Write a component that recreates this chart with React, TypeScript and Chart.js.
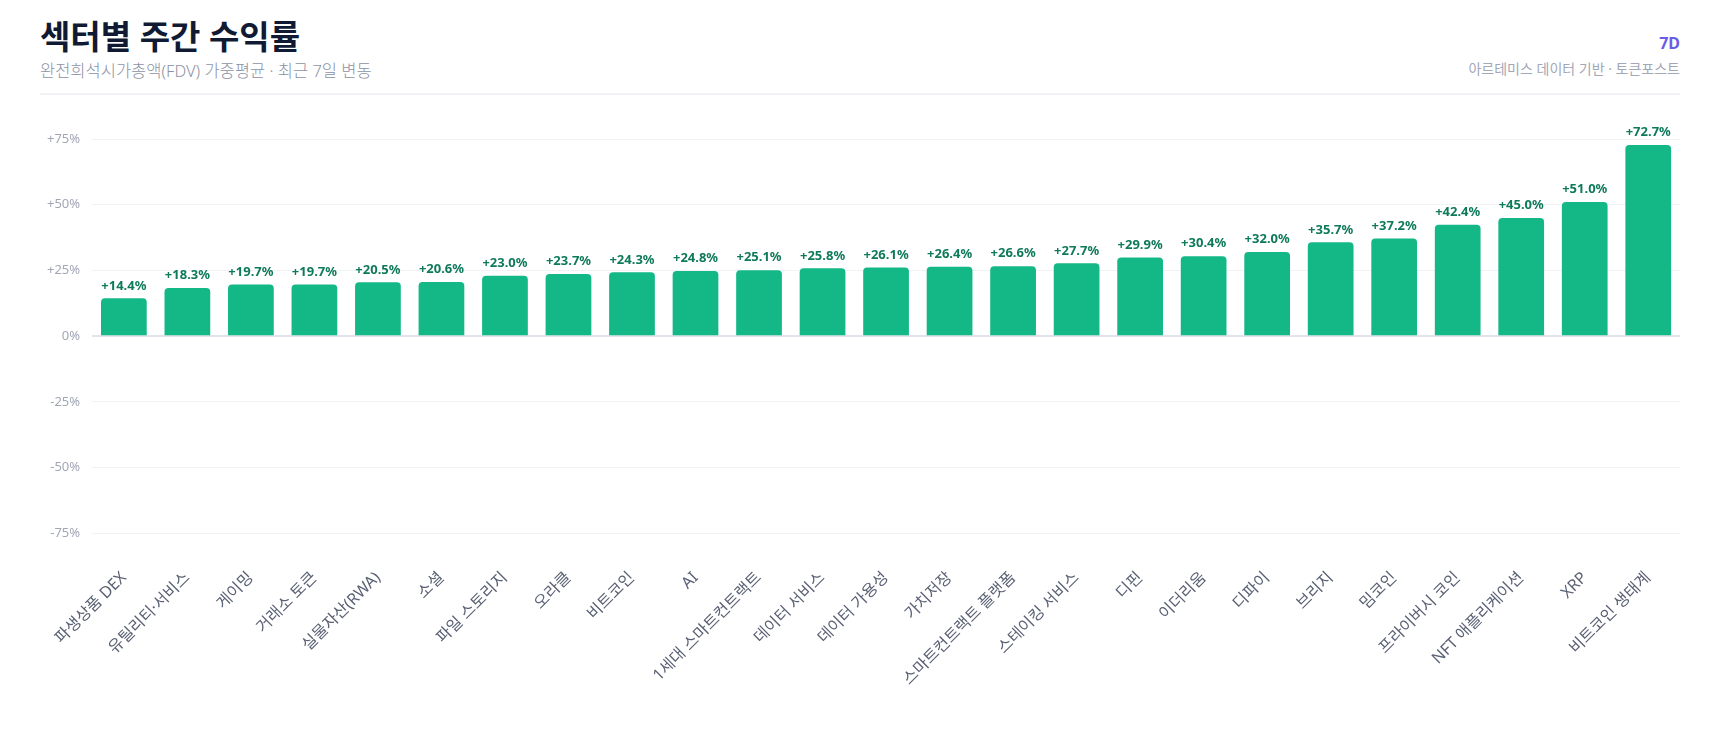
import React, { useEffect, useRef } from "react";
import { Chart, registerables } from "chart.js";

Chart.register(...registerables);

const categories = [
  "파생상품 DEX",
  "유틸리티·서비스",
  "게이밍",
  "거래소 토큰",
  "실물자산(RWA)",
  "소셜",
  "파일 스토리지",
  "오라클",
  "비트코인",
  "AI",
  "1세대 스마트컨트랙트",
  "데이터 서비스",
  "데이터 가용성",
  "가치저장",
  "스마트컨트랙트 플랫폼",
  "스테이킹 서비스",
  "디핀",
  "이더리움",
  "디파이",
  "브리지",
  "밈코인",
  "프라이버시 코인",
  "NFT 애플리케이션",
  "XRP",
  "비트코인 생태계",
];

const weeklyReturns = [
  14.4, 18.3, 19.7, 19.7, 20.5, 20.6, 23.0, 23.7, 24.3, 24.8, 25.1, 25.8, 26.1,
  26.4, 26.6, 27.7, 29.9, 30.4, 32.0, 35.7, 37.2, 42.4, 45.0, 51.0, 72.7,
];

const yTicks = [-75, -50, -25, 0, 25, 50, 75];

const FONT = '"Noto Sans", "Noto Sans CJK KR", sans-serif';

const fmtPct = (v: number) => (v > 0 ? `+${v.toFixed(1)}%` : `${v.toFixed(1)}%`);
const fmtTick = (v: number) => (v > 0 ? `+${v}%` : `${v}%`);

const valueLabels = {
  id: "valueLabels",
  afterDatasetsDraw(chart: any) {
    const { ctx } = chart;
    const meta = chart.getDatasetMeta(0);
    ctx.save();
    ctx.font = `700 13px ${FONT}`;
    ctx.fillStyle = "#0f7a5a";
    ctx.textAlign = "center";
    ctx.textBaseline = "bottom";
    meta.data.forEach((bar: any, i: number) => {
      const v = weeklyReturns[i];
      ctx.fillText(fmtPct(v), bar.x, bar.y - 6);
    });
    ctx.restore();
  },
};

export default function App() {
  const ref = useRef<HTMLCanvasElement | null>(null);

  useEffect(() => {
    if (!ref.current) return;
    const chart = new Chart(ref.current, {
      type: "bar",
      data: {
        labels: categories,
        datasets: [
          {
            data: weeklyReturns,
            backgroundColor: "#14b886",
            borderRadius: 4,
            borderSkipped: "start",
          },
        ],
      },
      options: {
        animation: false,
        responsive: true,
        maintainAspectRatio: false,
        layout: { padding: { top: 40, left: 0, right: 0, bottom: 33 } },
        plugins: {
          legend: { display: false },
          tooltip: { enabled: false },
        },
        scales: {
          x: {
            grid: {
              display: true,
              drawOnChartArea: false,
              drawTicks: true,
              tickLength: 32,
              tickColor: "rgba(0,0,0,0)",
            },
            border: { display: false },
            ticks: {
              minRotation: 45,
              maxRotation: 45,
              autoSkip: false,
              padding: 3,
              color: "#5a6174",
              font: { family: FONT, size: 16 },
            },
          },
          y: {
            min: -75,
            max: 75,
            afterBuildTicks: (axis: any) => {
              axis.ticks = yTicks.map((v) => ({ value: v }));
            },
            grid: {
              drawTicks: false,
              color: (c: any) => (c.tick && c.tick.value === 0 ? "#e1e4ea" : "#f1f2f6"),
              lineWidth: (c: any) => (c.tick && c.tick.value === 0 ? 2 : 1),
            },
            border: { display: false },
            ticks: {
              padding: 12,
              color: "#a2a7b6",
              font: { family: FONT, size: 13 },
              callback: (v: any) => fmtTick(Number(v)),
            },
          },
        },
      },
      plugins: [valueLabels],
    });
    return () => chart.destroy();
  }, []);

  return (
    <div style={{ padding: "0 32px", fontFamily: FONT }}>
      <div style={{ display: "flex", justifyContent: "space-between", alignItems: "flex-start" }}>
        <div>
          <div
            style={{
              fontSize: 33,
              fontWeight: 700,
              lineHeight: "40px",
              marginTop: 9,
              color: "#101a33",
            }}
          >
            섹터별 주간 수익률
          </div>
          <div
            style={{
              fontSize: 16.5,
              fontWeight: 300,
              lineHeight: "20px",
              marginTop: 4,
              color: "#8c92a4",
            }}
          >
            완전희석시가총액(FDV) 가중평균 · 최근 7일 변동
          </div>
        </div>
        <div style={{ textAlign: "right" }}>
          <div
            style={{
              fontSize: 16,
              fontWeight: 700,
              lineHeight: "20px",
              marginTop: 25,
              color: "#6b5ce7",
            }}
          >
            7D
          </div>
          <div style={{ fontSize: 14, lineHeight: "18px", marginTop: 7, color: "#a3a8b6" }}>
            아르테미스 데이터 기반 · 토큰포스트
          </div>
        </div>
      </div>
      <div style={{ height: 2, background: "#f1f2f6", marginTop: 12 }} />
      <div style={{ position: "relative", height: 626, marginTop: 4, marginLeft: -5 }}>
        <canvas ref={ref} />
      </div>
    </div>
  );
}
